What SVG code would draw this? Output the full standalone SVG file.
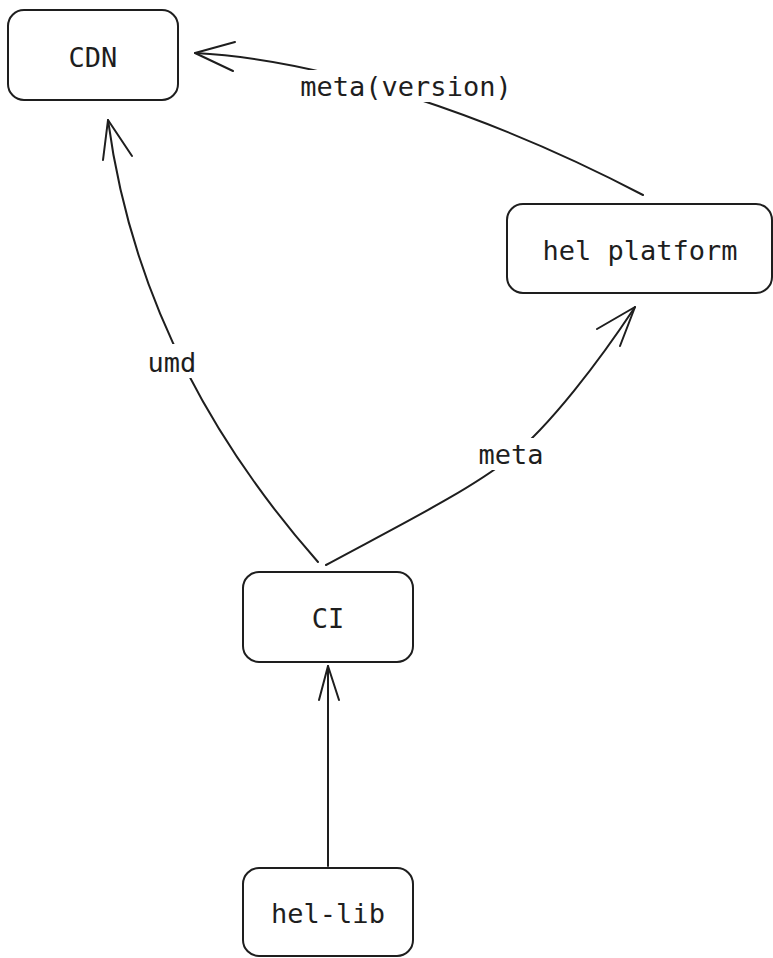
<svg xmlns="http://www.w3.org/2000/svg" width="773" height="958" viewBox="0 0 773 958">
<style>
.node rect{fill:#fff;stroke:#1e1e1e;stroke-width:2}
.lbl{font-family:"DejaVu Sans Mono","Liberation Mono",monospace;font-size:27px;fill:#1e1e1e;text-anchor:middle}
.edge{fill:none;stroke:#1e1e1e;stroke-width:2;stroke-linecap:round;stroke-linejoin:round}
.bg{fill:#fff}
</style>
<rect width="773" height="958" fill="#fff"/>
<g id="connectors">
<path class="edge" d="M643,195 C500,120 330,60 195,53"/>
<path class="edge" d="M235,42 L195,53 L233,71"/>
<path class="edge" d="M318,562 Q140,360 108,120"/>
<path class="edge" d="M103,160 L108,120 L132,156"/>
<path class="edge" d="M326,565 C400,525 470,490 510,458 S600,360 635,307"/>
<path class="edge" d="M597,329 L635,307 L620,346"/>
<path class="edge" d="M328,866 L328,666"/>
<path class="edge" d="M319,700 L328,666 L339,700"/>
<rect class="bg" x="294" y="70" width="224" height="32"/>
<rect class="bg" x="144" y="344" width="56" height="34"/>
<rect class="bg" x="472" y="438" width="78" height="32"/>
<text class="lbl" x="406" y="96">meta(version)</text>
<text class="lbl" x="172" y="372">umd</text>
<text class="lbl" x="511" y="464">meta</text>
</g>
<g id="cdn" class="node">
<rect x="8" y="10" width="170" height="90" rx="16"/>
<text class="lbl" x="93" y="67">CDN</text>
</g>
<g id="hel-platform" class="node">
<rect x="507" y="204" width="265" height="89" rx="16"/>
<text class="lbl" x="640" y="260">hel platform</text>
</g>
<g id="ci" class="node">
<rect x="243" y="572" width="170" height="90" rx="16"/>
<text class="lbl" x="328" y="628">CI</text>
</g>
<g id="hel-lib" class="node">
<rect x="243" y="868" width="170" height="88" rx="16"/>
<text class="lbl" x="328" y="923">hel-lib</text>
</g>
</svg>
